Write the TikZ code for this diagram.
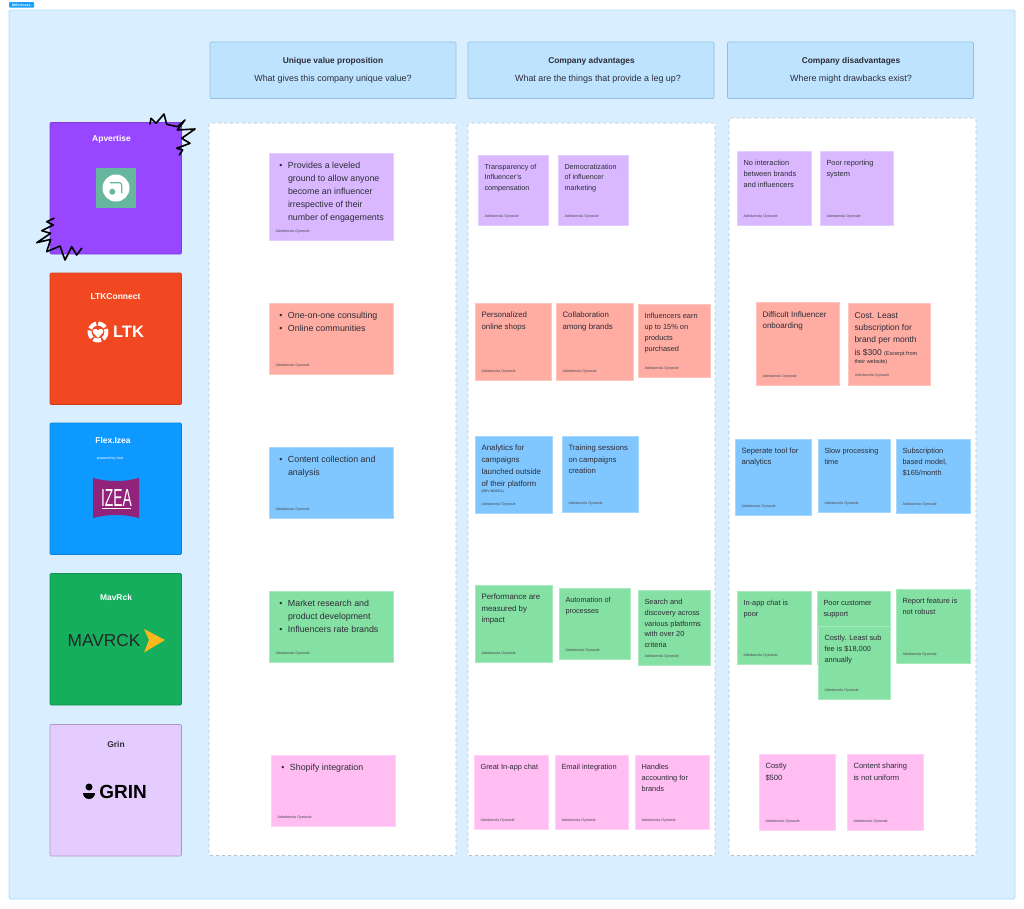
\documentclass[tikz,border=0pt]{standalone}
\usepackage{fontspec}
\setmainfont{Liberation Sans}[Scale=0.95]
\usetikzlibrary{positioning}

\definecolor{framefill}{HTML}{D9EFFF}
\definecolor{frameline}{HTML}{A6DCFB}
\definecolor{tabblue}{HTML}{18A0FB}
\definecolor{headfill}{HTML}{BDE3FF}
\definecolor{headline}{HTML}{93BEDC}
\definecolor{panelline}{HTML}{B4C2CC}
\definecolor{ink}{HTML}{2C2C36}
\definecolor{cpurple}{HTML}{9747FF}
\definecolor{corange}{HTML}{F24822}
\definecolor{cblue}{HTML}{0D99FF}
\definecolor{cgreen}{HTML}{14AE5C}
\definecolor{clav}{HTML}{E4CCFF}
\definecolor{npurple}{HTML}{D9B8FF}
\definecolor{norange}{HTML}{FFADA3}
\definecolor{nblue}{HTML}{80C7FF}
\definecolor{ngreen}{HTML}{85E0A3}
\definecolor{npink}{HTML}{FFBDF2}
\definecolor{apgreen}{HTML}{66B79E}
\definecolor{izeapurple}{HTML}{91237A}
\definecolor{mavyellow}{HTML}{FFB81C}

% name, colour, x, y, width, height, size, leading, text
\newcommand{\stickybox}[9]{%
  \node [note, fill=#2, draw=#2!70!white, minimum width=#5pt, minimum height=#6pt] (#1) at (#3,#4) {};
  \node [notetext, font=\fontsize{#7}{#8}\selectfont] (#1t) at ([xshift=6.3pt,yshift=-9pt]#1.north west) {#9};
}
% the same, with the small author line at the bottom
\newcommand{\stickynote}[9]{%
  \stickybox{#1}{#2}{#3}{#4}{#5}{#6}{#7}{#8}{#9}
  \node [author] (#1a) at ([xshift=6.3pt,yshift=8.7pt]#1.south west) {Adedamola Oyewale};
}
\newcommand{\bl}{\llap{\textbullet\hspace{5.5pt}}}

\begin{document}
\begin{tikzpicture}[x=1pt, y=-1pt]
% -------------------------------------------------
% Box styles
\tikzset{
  frame/.style={draw=frameline, fill=framefill, rounded corners=1.5pt, line width=.8pt},
  head/.style={draw=headline, fill=headfill, rounded corners=1pt, line width=.6pt,
    minimum width=246pt, minimum height=56.5pt, anchor=north west, outer sep=0pt},
  panel/.style={draw=panelline, fill=white, dashed, rounded corners=1pt, line width=.6pt},
  comp/.style={anchor=north west, minimum width=131.5pt, minimum height=131.5pt,
    rounded corners=1pt, line width=.6pt, outer sep=0pt},
  note/.style={anchor=north west, line width=.4pt, inner sep=0pt, outer sep=0pt},
  notetext/.style={anchor=north west, inner sep=0pt, align=left, text=ink},
  author/.style={anchor=west, inner sep=0pt, text=ink!85,
    font=\fontsize{3.9}{4}\selectfont},
  htitle/.style={text=ink, inner sep=0pt, font=\fontsize{8.8}{10}\bfseries\selectfont},
  hsub/.style={text=ink, inner sep=0pt, font=\fontsize{9.4}{10}\selectfont},
  ctitle/.style={inner sep=0pt, font=\fontsize{8.9}{10}\bfseries\selectfont},
  scribble/.style={draw=black, line width=1.6pt, line join=round, line cap=round},
}
\useasboundingbox (0,0) rectangle (1024,908);
% -------------------------------------------------
% Background, tab and column panels
\draw [frame] (9,10) rectangle (1015,899);
\node [fill=tabblue, text=white, rounded corners=.8pt, inner sep=0pt, minimum width=25pt,
  minimum height=5.5pt, anchor=north west, font=\fontsize{3.6}{4}\bfseries\selectfont]
  (tab) at (9,2) {Differences.};

\node [head] (h1) at (210,42) {};
\node [head] (h2) at (468,42) {};
\node [head] (h3) at (727.5,42) {};
\node [htitle] (h1a) at (333,61) {Unique value proposition};
\node [hsub]   (h1b) at (333,79) {What gives this company unique value?};
\node [htitle] (h2a) at (591.5,61) {Company advantages};
\node [hsub]   (h2b) at (598,79) {What are the things that provide a leg up?};
\node [htitle] (h3a) at (851,61) {Company disadvantages};
\node [hsub]   (h3b) at (851,79) {Where might drawbacks exist?};

\draw [panel] (209,123) rectangle (456,855.5);
\draw [panel] (468,123) rectangle (715,855.5);
\draw [panel] (729,118) rectangle (976,855.5);

% -------------------------------------------------
% Company cards
\node [comp, fill=cpurple, draw=cpurple!85!black] (apv) at (50,122.5) {};
\node [comp, fill=corange, draw=corange!85!black] (ltk) at (50,273) {};
\node [comp, fill=cblue, draw=cblue!85!black]     (izea) at (50,423) {};
\node [comp, fill=cgreen, draw=cgreen!85!black]   (mav) at (50,573.5) {};
\node [comp, fill=clav, draw=clav!75!black]       (grin) at (50,724.5) {};

\node [ctitle, text=white] (apvt) at (111.5,139) {Apvertise};
\node [ctitle, text=white] (ltkt) at (115.5,297) {LTKConnect};
\node [ctitle, text=white] (izeat) at (113,440) {Flex.Izea};
\node [ctitle, text=white] (mavt) at (116,597.5) {MavRck};
\node [ctitle, text=ink]   (grint) at (116,744) {Grin};

% Apvertise logo
\fill [apgreen] (96,168) rectangle (136,208);
\fill [white] (116,188) circle (13.5);
\fill [apgreen] (112.3,191.7) circle (3);
\draw [apgreen, line width=1.2pt, rounded corners=2.5pt] (110,182.7) -- (121.7,182.7) -- (121.7,193.3);
% LTK logo
\draw [white, line width=4pt, dash pattern=on 8pt off 2pt] (98,332) circle (8.5);
\fill [white] (98,338) -- (93,332.5) .. controls (91.5,329) and (96.5,327.5) .. (98,330.5)
  .. controls (99.5,327.5) and (104.5,329) .. (103,332.5) -- cycle;
\node [text=white, inner sep=0pt, font=\fontsize{17.4}{20}\bfseries\selectfont] (ltkl) at (128.5,332) {LTK};
% Izea logo
\node [text=white, inner sep=0pt, font=\fontsize{3.8}{4}\selectfont] (izeas) at (110,459) {powered by izea};
\fill [izeapurple] (93,478) .. controls (108,482) and (124,482) .. (139,478)
  -- (139,518) .. controls (124,514) and (108,514) .. (93,518) -- cycle;
\node [text=white, inner sep=0pt, xscale=.56, font=\fontsize{26}{28}\selectfont] (izeal) at (116.5,497.5) {IZEA};
\draw [white, line width=.8pt] (102,508.5) -- (131,508.5);
% Mavrck logo
\node [text=black!85, inner sep=0pt, font=\fontsize{18.2}{20}\selectfont] (mavl) at (104,640.5) {MAVRCK};
\fill [mavyellow] (144,629) -- (165,640) -- (144,652.5) -- (149,640) -- cycle;
% Grin logo
\fill [black] (89,787) circle (3.5);
\fill [black] (83,793) arc [start angle=180, end angle=0, radius=6] -- cycle;
\node [text=black, inner sep=0pt, font=\fontsize{20}{22}\bfseries\selectfont] (grinl) at (123,792) {GRIN};

% Scribbles on the first card
\draw [scribble] (150,124) -- (151,118.3) -- (156,123.3) -- (164,114) -- (166.7,124.3)
  -- (177.3,126.7) -- (185,120) -- (177.3,130) -- (195,129) -- (181.7,138.3)
  -- (190,143.3) -- (176.7,148.3) -- (182.7,150) -- (179.3,155);
\draw [scribble] (54,218.3) -- (46.7,221.7) -- (53.3,225) -- (41.7,230.7) -- (50.7,233.3)
  -- (36.7,242.7) -- (50.7,239.3) -- (46.7,251.7) -- (60,246) -- (65,260)
  -- (71.7,246.7) -- (76.7,255) -- (81.7,248.3);

% -------------------------------------------------
% Unique value proposition
\stickynote{u1}{npurple}{269}{153}{124}{87}{9.3}{13}{\hspace{12.5pt}\bl Provides a leveled\\\hspace{12.5pt}ground to allow anyone\\\hspace{12.5pt}become an influencer\\\hspace{12.5pt}irrespective of their\\\hspace{12.5pt}number of engagements}
\stickynote{u2}{norange}{269}{303}{124}{71}{9.3}{13}{\hspace{12.5pt}\bl One-on-one consulting\\\hspace{12.5pt}\bl Online communities}
\stickynote{u3}{nblue}{269}{447}{124}{71}{9.3}{13}{\hspace{12.5pt}\bl Content collection and\\\hspace{12.5pt}analysis}
\stickynote{u4}{ngreen}{269}{591}{124}{71}{9.3}{13}{\hspace{12.5pt}\bl Market research  and\\\hspace{12.5pt}product development\\\hspace{12.5pt}\bl Influencers rate brands}
\stickynote{u5}{npink}{271}{755}{124}{71}{9.3}{13}{\hspace{12.5pt}\bl Shopify integration}

% Company advantages
\stickynote{a1}{npurple}{478}{155}{70}{70}{7.6}{10.5}{Transparency of\\Influencer's\\compensation}
\stickynote{a2}{npurple}{558}{155}{70}{70}{7.6}{10.5}{Democratization\\of influencer\\marketing}
\stickynote{a3}{norange}{475}{303}{76.5}{77}{8.3}{11.4}{Personalized\\online shops}
\stickynote{a4}{norange}{556}{303}{77}{77}{8.3}{11.4}{Collaboration\\among brands}
\stickynote{a5}{norange}{638}{304}{72.5}{73}{7.8}{10.9}{Influencers earn\\up to 15\% on\\products\\purchased}
\stickybox{a6}{nblue}{475}{436}{77}{77}{8.3}{11.7}{Analytics for\\campaigns\\launched outside\\of their platform\\[-5.5pt]{\fontsize{3.6}{4}\selectfont (REV MODEL)}}
\node [author] (a6a) at ([xshift=6.3pt,yshift=8.7pt]a6.south west) {Adedamola Oyewale};
\stickynote{a7}{nblue}{562}{436}{76}{76}{8.1}{11.4}{Training sessions\\on campaigns\\creation}
\stickynote{a8}{ngreen}{475}{585}{77}{77}{8.3}{11.5}{Performance are\\measured by\\impact}
\stickynote{a9}{ngreen}{559}{588}{71}{71}{7.7}{10.8}{Automation of\\processes}
\stickynote{a10}{ngreen}{638}{590}{72.5}{75}{7.8}{10.8}{Search and\\discovery across\\various platforms\\with over 20\\criteria}
\stickynote{a11}{npink}{474}{755}{74}{74}{7.8}{11}{Great In-app chat}
\stickynote{a12}{npink}{555}{755}{73.5}{74}{7.8}{11}{Email integration}
\stickynote{a13}{npink}{635}{755}{74}{74}{7.8}{11}{Handles\\accounting for\\brands}

% Company disadvantages
\stickynote{d1}{npurple}{737}{151}{74}{74}{7.8}{11}{No interaction\\between brands\\and influencers}
\stickynote{d2}{npurple}{820}{151}{73.5}{74}{7.8}{11}{Poor reporting\\system}
\stickynote{d3}{norange}{756}{302}{83}{83}{8.5}{11.4}{Difficult Influencer\\onboarding}
\stickybox{d4}{norange}{848}{303}{82}{82}{8.9}{12.3}{Cost. Least\\subscription for\\brand per month\\is \$300 {\fontsize{5.8}{7}\selectfont (Excerpt from}\\[-3.8pt]{\fontsize{5.8}{7}\selectfont their website)}}
\node [author] (d4a) at ([xshift=7pt,yshift=9.5pt]d4.south west) {Adedamola Oyewale};
\stickynote{d5}{nblue}{735}{439}{76}{76}{8.1}{11.2}{Seperate tool for\\analytics}
\stickynote{d6}{nblue}{818}{439}{72.5}{73}{7.8}{10.8}{Slow processing\\time}
\stickynote{d7}{nblue}{896}{439}{74}{74}{7.8}{11}{Subscription\\based model,\\\$165/month}
\stickynote{d8}{ngreen}{737}{591}{74}{73}{7.8}{11}{In-app chat is\\poor}
\stickybox{d9}{ngreen}{817}{591}{73}{73}{7.8}{11}{Poor customer\\support}
\stickynote{d10}{ngreen}{818}{626}{72.5}{73}{7.8}{11}{Costly. Least sub\\fee is \$18,000\\annually}
\stickynote{d11}{ngreen}{896}{589}{74}{74}{7.8}{11}{Report feature is\\not robust}
\stickynote{d12}{npink}{759}{754}{76}{76}{8}{11.4}{Costly\\\$500}
\stickynote{d13}{npink}{847}{754}{76}{76}{8}{11.4}{Content sharing\\is not uniform}
% -------------------------------------------------
\end{tikzpicture}
\end{document}
